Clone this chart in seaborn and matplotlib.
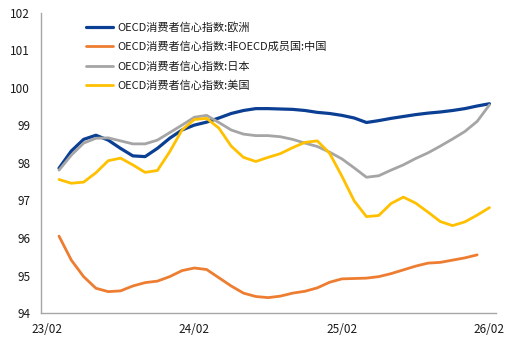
import numpy as np
import pandas as pd
import matplotlib
matplotlib.use("Agg")
import matplotlib.pyplot as plt
import seaborn as sns

# Monthly observations, 2023-03 .. 2026-02
months = [f"{y % 100:02d}/{m:02d}" for y in (2023, 2024, 2025, 2026) for m in range(1, 13)
          if (y, m) >= (2023, 3) and (y, m) <= (2026, 2)]

europe = [97.86, 98.32, 98.63, 98.74, 98.61, 98.39, 98.19, 98.17, 98.39, 98.66, 98.88, 99.01,
          99.09, 99.20, 99.32, 99.40, 99.45, 99.45, 99.44, 99.43, 99.40, 99.35, 99.32, 99.27,
          99.20, 99.08, 99.13, 99.19, 99.24, 99.29, 99.33, 99.36, 99.40, 99.45, 99.52, 99.58]
china = [96.05, 95.41, 94.97, 94.66, 94.57, 94.59, 94.72, 94.81, 94.85, 94.97, 95.13, 95.20,
         95.16, 94.94, 94.72, 94.53, 94.44, 94.41, 94.45, 94.53, 94.58, 94.67, 94.82, 94.91,
         94.92, 94.93, 94.97, 95.05, 95.15, 95.25, 95.33, 95.35, 95.41, 95.47, 95.55]
japan = [97.81, 98.21, 98.53, 98.66, 98.67, 98.59, 98.51, 98.51, 98.61, 98.81, 99.01, 99.22,
         99.27, 99.08, 98.88, 98.77, 98.73, 98.73, 98.70, 98.63, 98.53, 98.44, 98.29, 98.11,
         97.87, 97.62, 97.66, 97.81, 97.95, 98.12, 98.27, 98.45, 98.64, 98.84, 99.11, 99.55]
usa = [97.56, 97.46, 97.49, 97.74, 98.06, 98.13, 97.95, 97.75, 97.80, 98.30, 98.88, 99.16,
       99.19, 98.93, 98.45, 98.15, 98.04, 98.15, 98.25, 98.41, 98.55, 98.59, 98.26, 97.65,
       96.99, 96.57, 96.60, 96.92, 97.09, 96.93, 96.69, 96.44, 96.33, 96.43, 96.61, 96.81]

series_names = ["OECD消费者信心指数:欧洲",
                "OECD消费者信心指数:非OECD成员国:中国",
                "OECD消费者信心指数:日本",
                "OECD消费者信心指数:美国"]
series_values = [europe, china, japan, usa]
colors = ["#0b3f93", "#ed7d31", "#a5a5a5", "#ffc000"]
widths = [2.3, 2.0, 2.0, 2.0]

tick_labels = ["23/02", "24/02", "25/02", "26/02"]
tick_pos = [-1, 11, 23, 35]   # month index of each label (23/02 precedes the first observation)

frames = []
for name, vals in zip(series_names, series_values):
    frames.append(pd.DataFrame({"idx": np.arange(len(vals)), "value": vals, "series": name}))
df = pd.concat(frames, ignore_index=True)
df["month"] = [months[i] for i in df["idx"]]

sns.set_style("white")
plt.rcParams["font.family"] = ["Noto Sans CJK SC", "DejaVu Sans"]

fig = plt.figure(figsize=(5.1, 3.4), dpi=100)
ax = fig.add_axes([0.081, 0.0794, 0.8915, 0.8824])

for name, col, lw in zip(series_names, colors, widths):
    sns.lineplot(data=df[df["series"] == name], x="idx", y="value", color=col,
                 linewidth=lw, label=name, ax=ax, solid_joinstyle="round")

ax.set_xlim(-1.44, 35.53)
ax.set_ylim(94, 102)
ax.set_yticks(range(94, 103))
ax.set_xticks(tick_pos)
ax.set_xticklabels(tick_labels)
ax.set_xlabel("")
ax.set_ylabel("")
ax.tick_params(axis="both", length=0, labelsize=8.5, colors="#1a1a1a")
ax.tick_params(axis="y", pad=8)
ax.tick_params(axis="x", pad=7)

for side in ("top", "right"):
    ax.spines[side].set_visible(False)
for side in ("left", "bottom"):
    ax.spines[side].set_color("#a6a6a6")
    ax.spines[side].set_linewidth(1.0)

leg = ax.legend(loc="upper left", bbox_to_anchor=(0.098, 0.97), frameon=False,
                fontsize=8, handlelength=2.4, handletextpad=0.4, labelspacing=0.8,
                borderpad=0, borderaxespad=0)
for t in leg.get_texts():
    t.set_color("#1a1a1a")

fig.savefig("out.png", dpi=100)
